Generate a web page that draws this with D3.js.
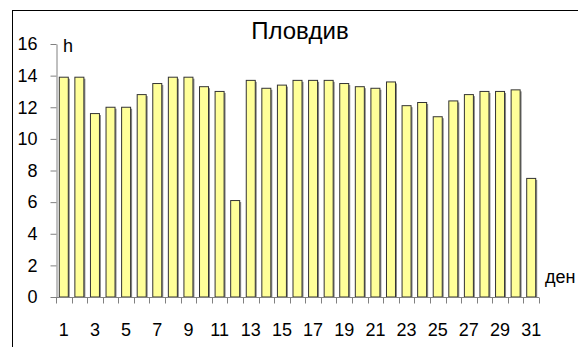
<!DOCTYPE html>
<html>
<head>
<meta charset="utf-8">
<script src="https://cdn.jsdelivr.net/npm/d3@7"></script>
<style>
  html, body { margin: 0; padding: 0; background: #fff; }
  svg { display: block; font-family: "Liberation Sans", Arial, sans-serif; }
</style>
</head>
<body>
<svg id="chart" width="578" height="347"></svg>
<script>
// Daily sunshine duration (hours) for each day of the month, Plovdiv
const days = d3.range(1, 32);
const hours = [13.9, 13.9, 11.6, 12.0, 12.0, 12.8, 13.5, 13.9, 13.9, 13.3,
               13.0, 6.1, 13.7, 13.2, 13.4, 13.7, 13.7, 13.7, 13.5, 13.3,
               13.2, 13.6, 12.1, 12.3, 11.4, 12.4, 12.8, 13.0, 13.0, 13.1, 7.5];
const yTicks = [0, 2, 4, 6, 8, 10, 12, 14, 16];
const xLabels = days.filter(d => d % 2 === 1);
const title = "Пловдив";
const yUnit = "h";
const xUnit = "ден";

const svg = d3.select("#chart");
const plot = { left: 56, right: 539, top: 44, bottom: 297 };
const fontFamily = "Liberation Sans, Arial, sans-serif";
const labelSize = 18;

// outer frame (extends past the canvas on the right and bottom)
svg.append("rect")
  .attr("x", 12.5).attr("y", 10.5)
  .attr("width", 700).attr("height", 500)
  .attr("fill", "none").attr("stroke", "#000").attr("stroke-width", 1);

const x = d3.scaleBand().domain(days).range([plot.left, plot.right]).paddingInner(0).paddingOuter(0);
const y = d3.scaleLinear().domain([0, 16]).range([plot.bottom, plot.top]);

const barW = 9;

// bar shadows
svg.append("g").selectAll("rect").data(days).join("rect")
  .attr("x", d => x(d) + x.bandwidth() / 2 - barW / 2 + 1.5)
  .attr("y", (d, i) => y(hours[i]) + 1.5)
  .attr("width", barW)
  .attr("height", (d, i) => y(0) - y(hours[i]) - 1.5)
  .attr("fill", "#8a8a8a");

// bars
svg.append("g").selectAll("rect").data(days).join("rect")
  .attr("x", d => x(d) + x.bandwidth() / 2 - barW / 2)
  .attr("y", (d, i) => y(hours[i]))
  .attr("width", barW)
  .attr("height", (d, i) => y(0) - y(hours[i]))
  .attr("fill", "#FFFF99")
  .attr("stroke", "#333")
  .attr("stroke-width", 1);

// y axis
const yAxis = svg.append("g")
  .attr("transform", `translate(${plot.left + 0.5},0)`)
  .call(d3.axisLeft(y).tickValues(yTicks).tickSize(6).tickPadding(13).tickSizeOuter(0));
yAxis.attr("font-size", labelSize).attr("font-family", fontFamily);
yAxis.select(".domain").attr("stroke", "#808080");
yAxis.selectAll(".tick line").attr("stroke", "#808080");
yAxis.selectAll(".tick text").attr("fill", "#000");

// x axis: ticks at category boundaries, labels on odd days
const xg = svg.append("g").attr("transform", `translate(0,${plot.bottom + 0.5})`);
xg.append("line").attr("x1", plot.left).attr("x2", plot.right)
  .attr("stroke", "#808080");
const bounds = days.map(d => x(d)).concat([plot.right]);
xg.selectAll("line.tk").data(bounds).join("line").attr("class", "tk")
  .attr("x1", d => Math.round(d) + 0.5).attr("x2", d => Math.round(d) + 0.5)
  .attr("y1", 0).attr("y2", 6).attr("stroke", "#808080");
xg.selectAll("text").data(xLabels).join("text")
  .attr("x", d => x(d) + x.bandwidth() / 2)
  .attr("y", 38)
  .attr("text-anchor", "middle")
  .attr("font-size", labelSize)
  .text(d => d);

// title and unit labels
svg.append("text").attr("x", 300).attr("y", 39).attr("text-anchor", "middle")
  .attr("font-size", 24).text(title);
svg.append("text").attr("x", 63).attr("y", 52).attr("font-size", labelSize).text(yUnit);
svg.append("text").attr("x", 545).attr("y", 283).attr("font-size", labelSize).text(xUnit);
</script>
</body>
</html>
